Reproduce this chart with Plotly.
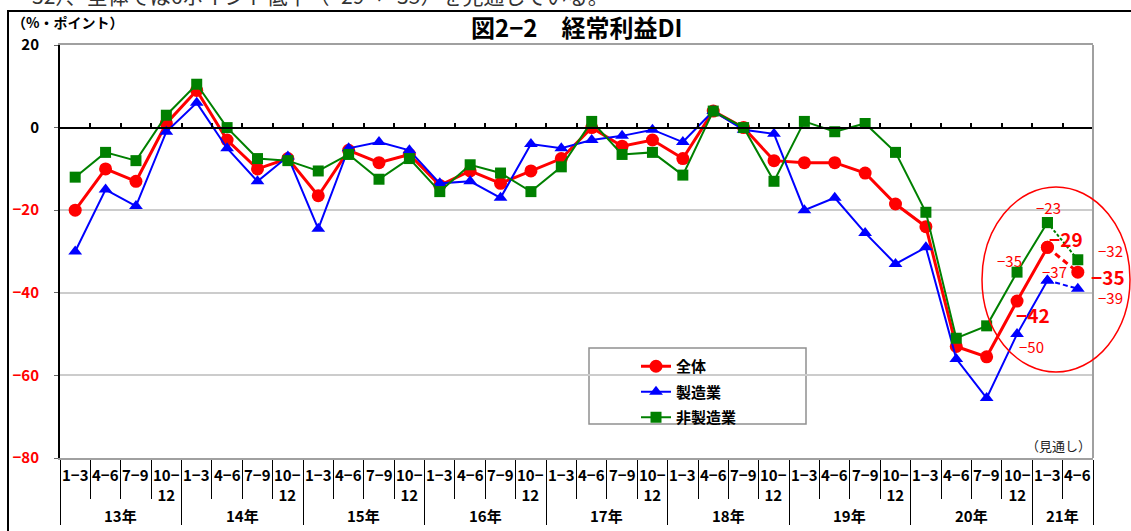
import plotly.graph_objects as go

# ---------------- data ----------------
quarters = ["1−3", "4−6", "7−9", "10−<br>12"] * 8 + ["1−3", "4−6"]
years = ["13年", "14年", "15年", "16年", "17年", "18年", "19年", "20年", "21年"]
quarters_per_year = [4, 4, 4, 4, 4, 4, 4, 4, 2]

zentai = [-20, -10, -13, 1, 9, -3, -10, -7.5, -16.5, -5.5, -8.5, -6.5,
          -14, -10.5, -13.5, -10.5, -7.5, 0, -4.5, -3, -7.5, 4, 0, -8,
          -8.5, -8.5, -11, -18.5, -24, -53, -55.5, -42, -29, -35]
seizo = [-30, -15, -19, -1, 6, -5, -13, -7, -24.5, -5, -3.5, -5.5,
         -13.5, -13, -17, -4, -5, -3, -2, -0.5, -3.5, 4, -0.5, -1.5,
         -20, -17, -25.5, -33, -29, -56, -65.5, -50, -37, -39]
hiseizo = [-12, -6, -8, 3, 10.5, 0, -7.5, -8, -10.5, -6.5, -12.5, -7.5,
           -15.5, -9, -11, -15.5, -9.5, 1.5, -6.5, -6, -11.5, 4, 0, -13,
           1.5, -1, 1, -6, -20.5, -51, -48, -35, -23, -32]

y_ticks = [20, 0, -20, -40, -60, -80]

# ---------------- styling ----------------
W, H = 1131, 531
PLOT_L, PLOT_R, PLOT_T, PLOT_B = 60, 1093, 45, 458   # plot area in pixels
JP = "Noto Sans CJK JP"
RED, BLUE, GREEN = "#ff0000", "#0000ff", "#008000"


def px_x(px):
    return px / W


def px_y(py):
    return 1 - py / H


YMIN, YMAX = y_ticks[-1], y_ticks[0]
zero_frac = (0 - YMIN) / (YMAX - YMIN)
zero_paper = px_y(PLOT_B) + zero_frac * (px_y(PLOT_T) - px_y(PLOT_B))

series = [
    dict(name="全体", values=zentai, color=RED, symbol="circle", size=13, width=3, dash="6px,4px"),
    dict(name="製造業", values=seizo, color=BLUE, symbol="triangle-up", size=12, width=2, dash="5px,3px"),
    dict(name="非製造業", values=hiseizo, color=GREEN, symbol="square", size=11, width=2, dash="3px,2px"),
]

n = len(zentai)
xs = list(range(n))

fig = go.Figure()
for i, s in enumerate(series):
    fig.add_trace(go.Scatter(
        x=xs[:n - 1], y=s["values"][:n - 1], mode="lines+markers", name=s["name"],
        legendgroup=f"g{i}",
        line=dict(color=s["color"], width=s["width"]),
        marker=dict(symbol=s["symbol"], size=s["size"], color=s["color"]),
        cliponaxis=False,
    ))
for i, s in enumerate(series):
    fig.add_trace(go.Scatter(
        x=xs[n - 2:], y=s["values"][n - 2:], mode="lines+markers", showlegend=False,
        xaxis="x2", legendgroup=f"g{i}",
        line=dict(color=s["color"], width=s["width"], dash=s["dash"]),
        marker=dict(symbol=s["symbol"], size=s["size"], color=s["color"]),
        cliponaxis=False,
    ))

# boundaries
year_bounds = [-0.5]
for c in quarters_per_year:
    year_bounds.append(year_bounds[-1] + c)
all_bounds = [k + 0.5 for k in range(-1, n)]
quarter_bounds = [b for b in all_bounds if b not in year_bounds]

annotations = []
# quarter labels
for i, q in enumerate(quarters):
    annotations.append(dict(x=i, y=0, xref="x", yref="y domain", yanchor="top", yshift=-4,
                            text=q, showarrow=False, align="center",
                            font=dict(family=JP, size=15, color="black", weight="bold")))
# year labels
start = 0
for yl, c in zip(years, quarters_per_year):
    annotations.append(dict(x=start + (c - 1) / 2, y=0, xref="x", yref="y domain",
                            yanchor="middle", yshift=-57, text=yl, showarrow=False,
                            font=dict(family=JP, size=15, color="black", weight="bold")))
    start += c

# data labels near the latest points: (series index, point index, bold, dx, dy)
label_spec = [
    (0, 31, True, 16, -13), (0, 32, True, 19, 9), (0, 33, True, 30, -4),
    (2, 31, False, -8, 12), (2, 32, False, 1, 15), (2, 33, False, 33, 9),
    (1, 31, False, 14, -12), (1, 32, False, 7, 9), (1, 33, False, 33, -9),
]
for si, pi, bold, dx, dy in label_spec:
    v = series[si]["values"][pi]
    annotations.append(dict(
        x=pi, y=v, xref="x", yref="y", xshift=dx, yshift=dy,
        text=f"−{abs(v):g}", showarrow=False,
        font=dict(family=JP, size=19 if bold else 15, color=RED,
                  weight="bold" if bold else "normal")))

# titles / notes
annotations += [
    dict(x=px_x(577), y=px_y(27), xref="paper", yref="paper", xanchor="center", yanchor="middle",
         text="図2−2　経常利益DI", showarrow=False,
         font=dict(family=JP, size=24, color="black", weight="bold")),
    dict(x=px_x(10), y=px_y(22), xref="paper", yref="paper", xanchor="left", yanchor="middle",
         text="（%・ポイント）", showarrow=False,
         font=dict(family=JP, size=14, color="black", weight="bold")),
    dict(x=1, y=0, xref="x domain", yref="y domain", xanchor="right", yanchor="bottom", yshift=1,
         text="（見通し）", showarrow=False,
         font=dict(family=JP, size=13, color="#222222")),
    dict(x=px_x(30), y=px_y(-5), xref="paper", yref="paper", xanchor="left", yanchor="middle",
         text="32）、全体では6ポイント低下（−29→−35）を見通している。", showarrow=False,
         font=dict(family=JP, size=21, color="#333333")),
]

frame_path = (f"M {px_x(8)},{px_y(H)} L {px_x(8)},{px_y(11)} L {px_x(W)},{px_y(11)}")
shapes = [
    # right frame
    dict(type="line", xref="x domain", yref="y domain", x0=1, x1=1, y0=0, y1=1,
         line=dict(color="#a0a0a0", width=2)),
    # outer frame (left and top edges visible)
    dict(type="path", xref="paper", yref="paper", path=frame_path,
         line=dict(color="black", width=2), layer="above"),
    # legend box
    dict(type="rect", xref="paper", yref="paper", x0=px_x(589), x1=px_x(806), y0=px_y(424), y1=px_y(348),
         line=dict(color="#909090", width=1.5), fillcolor="white", layer="below"),
    # highlight ellipse
    dict(type="circle", xref="paper", yref="paper", x0=px_x(982), x1=px_x(1130), y0=px_y(372), y1=px_y(187),
         line=dict(color=RED, width=1.5)),
]

ticktext = []
for t in y_ticks:
    if t < 0:
        ticktext.append(f'<span style="color:{RED}">−{abs(t)}</span>')
    else:
        ticktext.append(str(t))

fig.update_layout(
    width=W, height=H,
    margin=dict(l=0, r=0, t=0, b=0, pad=0),
    paper_bgcolor="white", plot_bgcolor="rgba(0,0,0,0)",
    font=dict(family=JP, color="black"),
    showlegend=True,
    legend=dict(x=px_x(636), y=px_y(350), xanchor="left", yanchor="top",
                bgcolor="rgba(0,0,0,0)", borderwidth=0, tracegroupgap=3,
                itemwidth=30, font=dict(family=JP, size=15, color="black", weight="bold")),
    xaxis=dict(domain=[px_x(PLOT_L), px_x(PLOT_R)], range=[-0.5, n - 0.5],
               showgrid=False, zeroline=False, automargin=False,
               showline=True, linecolor="#a0a0a0", linewidth=2, mirror=True,
               tickmode="array", tickvals=year_bounds, ticks="outside", ticklen=65,
               tickcolor="black", tickwidth=1, showticklabels=False,
               minor=dict(tickmode="array", tickvals=quarter_bounds, ticks="outside",
                          ticklen=39, tickcolor="black", tickwidth=1, showgrid=False)),
    xaxis2=dict(overlaying="x", matches="x", anchor="free", position=zero_paper,
                side="bottom", showgrid=False, zeroline=False, showline=True, automargin=False,
                linecolor="black", linewidth=1.5, tickmode="array",
                tickvals=[b for b in all_bounds if b > 0], ticks="inside", ticklen=4,
                tickcolor="black", tickwidth=1.5, showticklabels=False),
    yaxis=dict(domain=[px_y(PLOT_B), px_y(PLOT_T)], range=[YMIN, YMAX],
               tickmode="array", tickvals=y_ticks, ticktext=ticktext, automargin=False,
               showgrid=True, gridcolor="#cccccc", gridwidth=1.5, zeroline=False,
               showline=True, linecolor="black", linewidth=2,
               ticks="outside", ticklen=4, tickcolor="#666666", ticklabelstandoff=12,
               tickfont=dict(family=JP, size=15, color="black", weight="bold")),
    annotations=annotations,
    shapes=shapes,
)

fig.write_html("out.html", config={"displayModeBar": False},
               post_script="document.body.style.margin='0';document.body.style.overflow='hidden';")
